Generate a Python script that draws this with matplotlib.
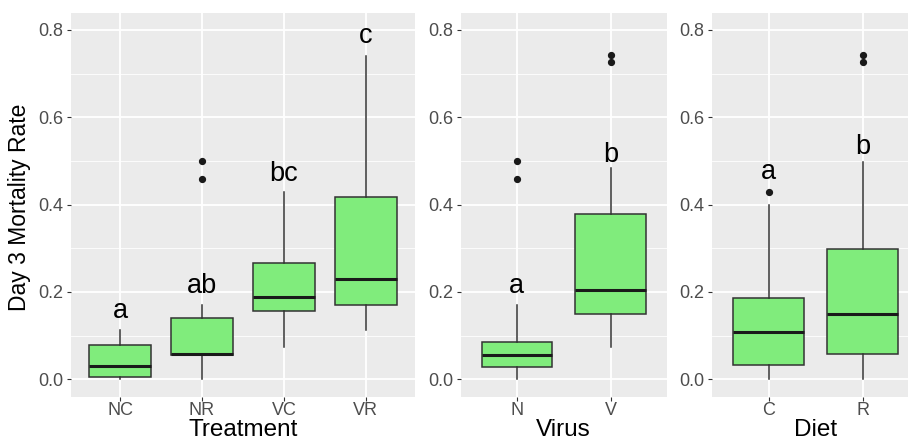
import matplotlib
matplotlib.use("Agg")
import matplotlib.pyplot as plt
from matplotlib.transforms import blended_transform_factory

plt.rcParams['font.family'] = ['Liberation Sans', 'DejaVu Sans']

# ---- data ----
treat_cats = ['NC', 'NR', 'VC', 'VR']
treat_q1 = [0.006, 0.055, 0.157, 0.171]
treat_med = [0.031, 0.057, 0.188, 0.229]
treat_q3 = [0.078, 0.141, 0.267, 0.418]
treat_lo = [0.0, 0.0, 0.073, 0.113]
treat_hi = [0.113, 0.170, 0.428, 0.741]
treat_out = [[], [0.499, 0.459], [], []]
treat_letters = ['a', 'ab', 'bc', 'c']
treat_letter_y = [0.140, 0.197, 0.454, 0.769]

virus_cats = ['N', 'V']
virus_q1 = [0.0275, 0.150]
virus_med = [0.055, 0.205]
virus_q3 = [0.085, 0.378]
virus_lo = [0.0, 0.073]
virus_hi = [0.170, 0.483]
virus_out = [[0.499, 0.459], [0.743, 0.727]]
virus_letters = ['a', 'b']
virus_letter_y = [0.197, 0.497]

diet_cats = ['C', 'R']
diet_q1 = [0.032, 0.057]
diet_med = [0.108, 0.150]
diet_q3 = [0.187, 0.299]
diet_lo = [0.0, 0.0]
diet_hi = [0.399, 0.498]
diet_out = [[0.428], [0.743, 0.727]]
diet_letters = ['a', 'b']
diet_letter_y = [0.459, 0.517]

y_ticks = [0.0, 0.2, 0.4, 0.6, 0.8]
y_tick_labels = ['0.0', '0.2', '0.4', '0.6', '0.8']
y_minor = [0.1, 0.3, 0.5, 0.7]

W, H = 908, 442
fig = plt.figure(figsize=(W / 100, H / 100), dpi=100)

BOX_FILL = '#80EC7C'
EDGE = '#333333'
BG = '#EBEBEB'
TICKC = '#4D4D4D'


def panel(rect, cats, q1, med, q3, lo, hi, out, letters, letter_y, xlabel):
    ax = fig.add_axes(rect)
    ax.set_facecolor(BG)
    stats = []
    for i in range(len(cats)):
        stats.append(dict(q1=q1[i], med=med[i], q3=q3[i], whislo=lo[i],
                          whishi=hi[i], fliers=out[i], label=cats[i]))
    pos = list(range(1, len(cats) + 1))
    ax.bxp(stats, positions=pos, widths=0.75, patch_artist=True,
           showcaps=False,
           boxprops=dict(facecolor=BOX_FILL, edgecolor=EDGE, linewidth=1.1),
           medianprops=dict(color='#1A1A1A', linewidth=2.2),
           whiskerprops=dict(color=EDGE, linewidth=1.1),
           flierprops=dict(marker='o', markerfacecolor='#1A1A1A',
                           markeredgecolor='#1A1A1A', markersize=4.2),
           zorder=3)
    for p, t, y in zip(pos, letters, letter_y):
        ax.text(p, y, t, ha='center', va='baseline', fontsize=19.5,
                color='black', zorder=4)
    ax.set_xlim(0.4, len(cats) + 0.6)
    ax.set_ylim(-0.0398, 0.838)
    ax.set_xticks(pos)
    ax.set_xticklabels(cats)
    ax.set_yticks(y_ticks)
    ax.set_yticklabels(y_tick_labels)
    ax.set_yticks(y_minor, minor=True)
    ax.grid(True, which='major', color='white', linewidth=1.3, zorder=0)
    ax.grid(True, which='minor', axis='y', color='white', linewidth=0.6, zorder=0)
    ax.set_axisbelow(True)
    for s in ax.spines.values():
        s.set_visible(False)
    ax.tick_params(axis='both', which='major', length=3, width=0.8,
                   color=EDGE, labelcolor=TICKC, labelsize=13)
    ax.tick_params(axis='x', which='major', pad=1)
    ax.tick_params(axis='y', which='major', pad=2.5)
    ax.tick_params(axis='y', which='minor', length=0)
    tr = blended_transform_factory(ax.transAxes, fig.transFigure)
    ax.text(0.5, 5.5 / H, xlabel, transform=tr, ha='center', va='baseline',
            fontsize=17.5, color='black', clip_on=False)
    return ax


ax1 = panel([71 / W, 45.3 / H, 344 / W, 383.4 / H], treat_cats, treat_q1,
            treat_med, treat_q3, treat_lo, treat_hi, treat_out,
            treat_letters, treat_letter_y, 'Treatment')
ax2 = panel([460.7 / W, 45.3 / H, 206 / W, 383.4 / H], virus_cats, virus_q1,
            virus_med, virus_q3, virus_lo, virus_hi, virus_out,
            virus_letters, virus_letter_y, 'Virus')
ax3 = panel([712.3 / W, 45.3 / H, 206.8 / W, 383.4 / H], diet_cats, diet_q1,
            diet_med, diet_q3, diet_lo, diet_hi, diet_out,
            diet_letters, diet_letter_y, 'Diet')

fig.text(20 / W, 1 - 207 / H, 'Day 3 Mortality Rate', rotation=90,
         ha='center', va='center', fontsize=16.5, color='black')

fig.savefig('out.png', dpi=100, facecolor='white')
